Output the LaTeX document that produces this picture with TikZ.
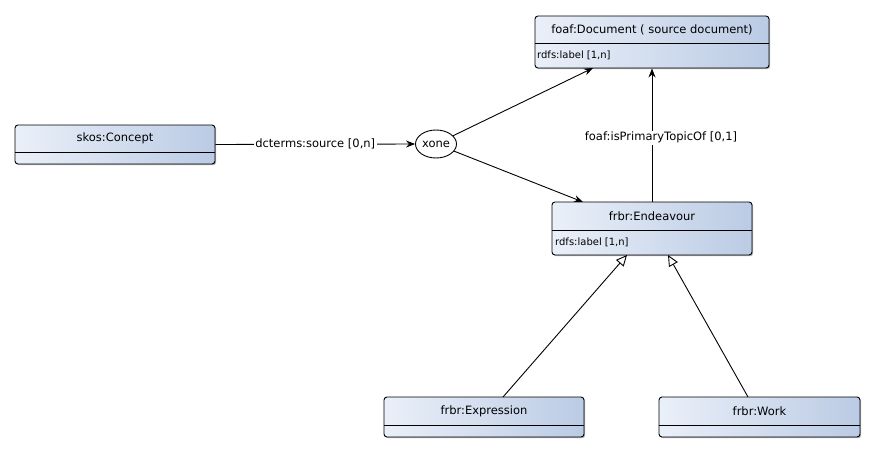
\documentclass[tikz,border=0pt]{standalone}
\usepackage{fontspec}
\setmainfont{DejaVu Sans}
\usetikzlibrary{arrows.meta,shadows,shapes.geometric}
\definecolor{boxL}{RGB}{234,240,249}
\definecolor{boxR}{RGB}{187,203,228}
\tikzset{
  cls/.style={draw=black, line width=0.9pt, rounded corners=3pt, left color=boxL, right color=boxR,
    drop shadow={shadow xshift=1.2pt, shadow yshift=-1.2pt, opacity=0.3, fill=black}, inner sep=0pt},
  ttl/.style={font=\fontsize{11.5}{13}\selectfont, inner sep=0pt},
  attr/.style={font=\fontsize{10}{12}\selectfont, inner sep=0pt, anchor=west},
  divl/.style={line width=0.9pt},
  arr/.style={line width=0.9pt, -{Stealth[length=9pt,width=7pt]}},
  gen/.style={line width=0.9pt, -{Triangle[open, length=11pt, width=10pt, fill=white]}},
  elab/.style={font=\fontsize{11.5}{13}\selectfont, fill=white, inner sep=1.5pt},
}
\begin{document}
\begin{tikzpicture}[x=1pt,y=-1pt]
\useasboundingbox (0,0) rectangle (877,452);
% foaf:Document
\node[cls, minimum width=234pt, minimum height=52pt] (doc) at (652,42) {};
\draw[divl] (535,43) -- (769,43);
\node[ttl] (doctitle) at (652,29.5) {foaf:Document ( source document)};
\node[attr] (docattr) at (537,55.5) {rdfs:label [1,n]};
% skos:Concept
\node[cls, minimum width=200pt, minimum height=39pt] (concept) at (115,144.5) {};
\draw[divl] (15,152) -- (215,152);
\node[ttl] (concepttitle) at (115,138) {skos:Concept};
% xone
\node[draw, ellipse, line width=0.9pt, fill=white, minimum width=41pt, minimum height=28pt, inner sep=0pt,
  font=\fontsize{11.5}{13}\selectfont] (xone) at (436,144) {xone};
% frbr:Endeavour
\node[cls, minimum width=200pt, minimum height=53pt] (end) at (652,228.5) {};
\draw[divl] (552,230) -- (752,230);
\node[ttl] (endtitle) at (652,216) {frbr:Endeavour};
\node[attr] (endattr) at (555,242.5) {rdfs:label [1,n]};
% frbr:Expression
\node[cls, minimum width=200pt, minimum height=40pt] (expr) at (484,417) {};
\draw[divl] (384,425) -- (584,425);
\node[ttl] (exprtitle) at (484,411) {frbr:Expression};
% frbr:Work
\node[cls, minimum width=201pt, minimum height=40pt] (work) at (759.5,417) {};
\draw[divl] (659,425) -- (860,425);
\node[ttl] (worktitle) at (759.5,411) {frbr:Work};
% connectors
\coordinate (docin) at (593,68);
\coordinate (endin) at (583,202);
\draw[arr] (concept.east) -- node[elab] {dcterms:source [0,n]} (xone.west);
\draw[arr] (xone) -- (docin);
\draw[arr] (xone) -- (endin);
\draw[arr] (end.north) -- node[elab, xshift=9pt, pos=0.48] {foaf:isPrimaryTopicOf [0,1]} (doc.south);
\coordinate (g1a) at (503,397);
\coordinate (g1b) at (627,255);
\coordinate (g2a) at (748,397);
\coordinate (g2b) at (668,255);
\draw[gen] (g1a) -- (g1b);
\draw[gen] (g2a) -- (g2b);
\end{tikzpicture}
\end{document}
